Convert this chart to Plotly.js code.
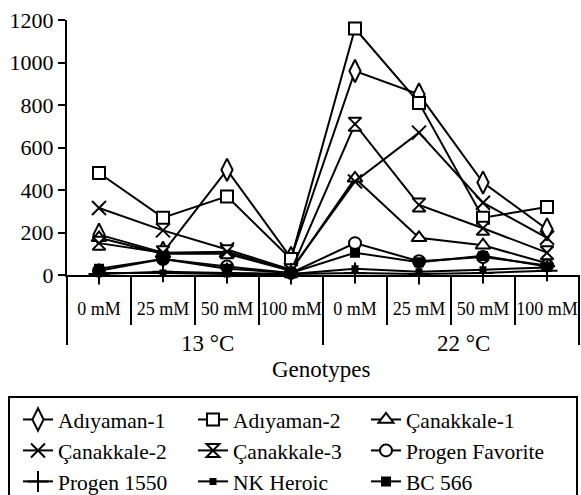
<!DOCTYPE html>
<html>
<head>
<meta charset="utf-8">
<script src="https://cdn.plot.ly/plotly-3.0.1.min.js"></script>
<style>
  html, body { margin: 0; padding: 0; background: #fff; }
  #chart { width: 581px; height: 495px; }
</style>
</head>
<body>
<div id="chart"></div>
<script>
// Categories (salt concentration at two temperatures)
const categories = ["0 mM", "25 mM", "50 mM", "100 mM", "0 mM", "25 mM", "50 mM", "100 mM"];
const groupLabels = ["13 °C", "22 °C"];
const xTitle = "Genotypes";
const yTicks = [0, 200, 400, 600, 800, 1000, 1200];

// Series values: first four = 13 °C, last four = 22 °C
const adiyaman1      = [190, 105, 495, 80, 960, 850, 435, 215];
const adiyaman2      = [480, 270, 370, 75, 1160, 810, 270, 320];
const canakkale1     = [175, 100, 100, 20, 455, 175, 140, 55];
const canakkale2     = [315, 210, 120, 25, 440, 670, 340, 175];
const canakkale3     = [150, 105, 110, 20, 710, 330, 220, 105];
const progenFavorite = [20, 75, 40, 10, 150, 65, 85, 45];
const progen1550     = [5, 15, 10, 5, 10, 5, 10, 20];
const nkHeroic       = [10, 10, 5, 5, 30, 15, 25, 35];
const bc566          = [30, 75, 30, 10, 105, 60, 90, 40];

const seriesNames = ["Adıyaman-1", "Adıyaman-2", "Çanakkale-1", "Çanakkale-2", "Çanakkale-3",
                     "Progen Favorite", "Progen 1550", "NK Heroic", "BC 566"];
const seriesValues = [adiyaman1, adiyaman2, canakkale1, canakkale2, canakkale3,
                      progenFavorite, progen1550, nkHeroic, bc566];
const symbols = ["diamond-tall", "square", "triangle-up", "x-thin-open", "hourglass",
                 "circle", "cross-thin-open", "square", "square"];
const fills   = ["#fff", "#fff", "#fff", "#000", "#fff", "#fff", "#000", "#000", "#000"];
const sizes = [16, 12, 13, 14, 13, 12, 15, 5, 8];
const legendIds = ["legend", "legend2", "legend3"];

const xs = categories.map((c, i) => i);
const FONT = '"Liberation Serif", "Times New Roman", Times, serif';

const traces = seriesNames.map((name, k) => ({
  type: "scatter",
  mode: "lines+markers",
  name: name,
  x: xs,
  y: seriesValues[k],
  cliponaxis: false,
  legend: legendIds[k % 3],
  line: { color: "#000", width: 2 },
  marker: {
    symbol: symbols[k],
    size: sizes[k],
    color: fills[k],
    line: { color: "#000", width: 2 }
  }
}));

const W = 581, H = 495;
const mL = 67, mR = 2, mT = 20, mB = 220;
const plotH = H - mT - mB;
const pyPix = (py) => (H - mB - py) / plotH; // pixel y -> paper y
const plotW = W - mL - mR;
const pxPix = (px) => (px - mL) / plotW;

const shapes = [];
for (let i = 0; i <= 8; i++) {
  const long = (i === 0 || i === 4 || i === 8);
  shapes.push({
    type: "line", xref: "paper", yref: "paper",
    x0: i / 8, x1: i / 8, y0: 0, y1: pyPix(long ? 345 : 325),
    line: { color: "#000", width: 2 }
  });
}
// legend frame
shapes.push({
  type: "rect", xref: "paper", yref: "paper", layer: "above",
  x0: pxPix(9), x1: pxPix(577), y0: pyPix(397), y1: pyPix(502),
  line: { color: "#000", width: 2 }, fillcolor: "rgba(0,0,0,0)"
});

function legendAt(px) {
  return {
    orientation: "v",
    x: pxPix(px), y: pyPix(399), xanchor: "left", yanchor: "top",
    borderwidth: 0, bgcolor: "rgba(0,0,0,0)",
    font: { family: FONT, size: 21.5, color: "#000" },
    itemwidth: 30, tracegroupgap: 0, traceorder: "normal"
  };
}

const layout = {
  width: W, height: H,
  margin: { l: mL, r: mR, t: mT, b: mB, autoexpand: false },
  paper_bgcolor: "#fff", plot_bgcolor: "#fff",
  font: { family: FONT, color: "#000" },
  showlegend: true,
  xaxis: {
    range: [-0.5, 7.5],
    tickmode: "array", tickvals: xs, ticktext: categories,
    ticks: "", showgrid: false, zeroline: false,
    showline: true, linecolor: "#000", linewidth: 2,
    tickfont: { family: FONT, size: 18, color: "#000" },
    ticklabelstandoff: 16
  },
  yaxis: {
    range: [0, 1200],
    tickmode: "array", tickvals: yTicks,
    ticks: "outside", ticklen: 7, tickwidth: 2, tickcolor: "#000",
    showgrid: false, zeroline: false,
    showline: true, linecolor: "#000", linewidth: 2,
    tickfont: { family: FONT, size: 22, color: "#000" }
  },
  shapes: shapes,
  annotations: [
    { text: groupLabels[0], xref: "paper", yref: "paper", x: pxPix(207), y: pyPix(343),
      xanchor: "center", yanchor: "middle", showarrow: false, font: { family: FONT, size: 23, color: "#000" } },
    { text: groupLabels[1], xref: "paper", yref: "paper", x: pxPix(463), y: pyPix(343),
      xanchor: "center", yanchor: "middle", showarrow: false, font: { family: FONT, size: 23, color: "#000" } },
    { text: xTitle, xref: "paper", yref: "paper", x: pxPix(321), y: pyPix(369),
      xanchor: "center", yanchor: "middle", showarrow: false, font: { family: FONT, size: 23, color: "#000" } }
  ],
  legend: legendAt(18),
  legend2: legendAt(193),
  legend3: legendAt(366)
};

Plotly.newPlot("chart", traces, layout, { displayModeBar: false, staticPlot: true });
</script>
</body>
</html>
